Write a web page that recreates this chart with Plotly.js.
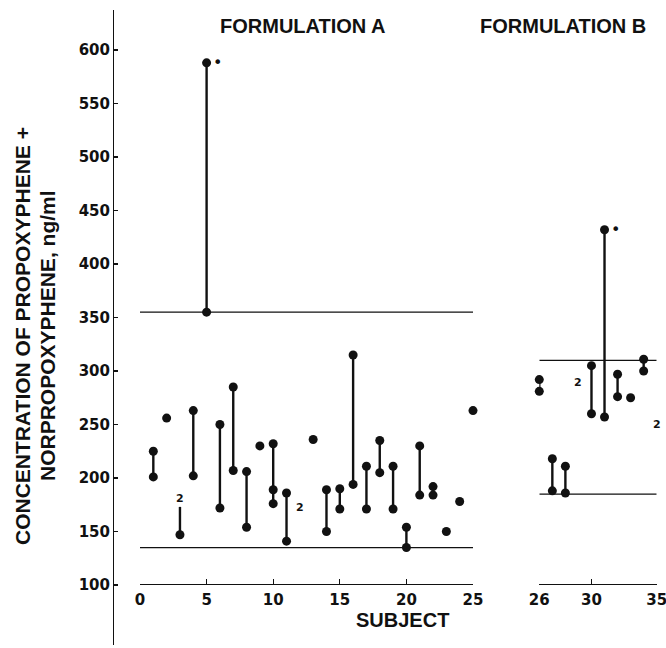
<!DOCTYPE html>
<html>
<head>
<meta charset="utf-8">
<script src="https://cdn.plot.ly/plotly-3.0.1.min.js"></script>
<style>
html,body{margin:0;padding:0;background:#fff;}
#chart{width:666px;height:648px;}
</style>
</head>
<body>
<div id="chart"></div>
<script>
// ---- DATA ----
const subjectsA = [1,2,3,4,5,6,7,8,9,10,11,12,13,14,15,16,17,18,19,20,21,22,23,24,25];
const concA1 = [225,256,147,263,588,250,285,206,230,232,186,null,236,189,190,315,211,235,211,154,230,192,150,178,263];
const concA2 = [201,null,null,202,355,172,207,154,null,189,141,null,null,150,171,194,171,205,171,135,184,184,null,null,null];
const concA3 = [null,null,null,null,null,null,null,null,null,176,null,null,null,null,null,null,null,null,null,null,null,null,null,null,null];
const stemOnlySubjects = [3];
const stemOnlyTops = [173];
const pairLabelSubjectsA = [3, 12];
const pairLabelValuesA = [181, 172];

const subjectsB = [26,27,28,29,30,31,32,33,34,35];
const concB1 = [292,218,211,null,305,432,297,275,311,null];
const concB2 = [281,188,186,null,260,257,276,null,300,null];
const pairLabelSubjectsB = [29, 35];
const pairLabelValuesB = [289, 250];

const footnoteSubjects = [5, 31];
const footnoteValues = [588, 432];

const refLinesA = [355, 135];
const refLinesB = [310, 185];

const xTicksA = [0,5,10,15,20,25];
const xTicksB = [26,30,35];
const yTicks = [100,150,200,250,300,350,400,450,500,550,600];

const titleA = 'FORMULATION A';
const titleB = 'FORMULATION B';
const yTitle1 = 'CONCENTRATION OF PROPOXYPHENE +';
const yTitle2 = 'NORPROPOXYPHENE, ng/ml';
const xTitle = 'SUBJECT';

// ---- BUILD ----
function buildSeries(subjects, cols, stemSubj, stemTop) {
  const dx = [], dy = [], sx = [], sy = [];
  subjects.forEach((s, i) => {
    const vals = cols.map(c => c[i]).filter(v => v !== null && v !== undefined);
    vals.forEach(v => { dx.push(s); dy.push(v); });
    const stemVals = vals.slice();
    const k = stemSubj.indexOf(s);
    if (k >= 0) stemVals.push(stemTop[k]);
    if (stemVals.length >= 2) {
      sx.push(s, s, null);
      sy.push(Math.min(...stemVals), Math.max(...stemVals), null);
    }
  });
  return {dx, dy, sx, sy};
}
const A = buildSeries(subjectsA, [concA1, concA2, concA3], stemOnlySubjects, stemOnlyTops);
const B = buildSeries(subjectsB, [concB1, concB2], [], []);

function refLine(ticks, refs) {
  const x = [], y = [];
  refs.forEach(r => { x.push(ticks[0], ticks[ticks.length-1], null); y.push(r, r, null); });
  return {x, y};
}
const RA = refLine(xTicksA, refLinesA);
const RB = refLine(xTicksB, refLinesB);

const ink = '#111';
const traces = [
  {x: RA.x, y: RA.y, xaxis:'x', yaxis:'y', mode:'lines', line:{color:ink, width:1.3}, hoverinfo:'skip', cliponaxis:false},
  {x: RB.x, y: RB.y, xaxis:'x2', yaxis:'y', mode:'lines', line:{color:ink, width:1.3}, hoverinfo:'skip', cliponaxis:false},
  {x: A.sx, y: A.sy, xaxis:'x', yaxis:'y', mode:'lines', line:{color:ink, width:2.4}, cliponaxis:false},
  {x: B.sx, y: B.sy, xaxis:'x2', yaxis:'y', mode:'lines', line:{color:ink, width:2.4}, cliponaxis:false},
  {x: A.dx, y: A.dy, xaxis:'x', yaxis:'y', mode:'markers', marker:{color:ink, size:9}, cliponaxis:false},
  {x: B.dx, y: B.dy, xaxis:'x2', yaxis:'y', mode:'markers', marker:{color:ink, size:9}, cliponaxis:false}
];

// ---- LAYOUT ----
const W = 666, H = 648;
const mL = 113, mR = 6, mT = 10, mB = 3;
const pw = W - mL - mR, ph = H - mT - mB;
const px2fx = p => (p - mL) / pw;
const py2fy = p => (H - mB - p) / ph;

const tickFont = {family:'DejaVu Sans', size:15, color:ink, weight:'bold'};
const titleFont = {family:'Liberation Sans', size:20, color:ink, weight:'bold'};
const numFont = {family:'DejaVu Sans', size:11, color:ink, weight:'bold'};

const annotations = [];
pairLabelSubjectsA.forEach((s, i) => annotations.push({x:s, y:pairLabelValuesA[i], xref:'x', yref:'y', text:'2', showarrow:false, font:numFont}));
pairLabelSubjectsB.forEach((s, i) => annotations.push({x:s, y:pairLabelValuesB[i], xref:'x2', yref:'y', text:'2', showarrow:false, font:numFont}));
footnoteSubjects.forEach((s, i) => annotations.push({x:s, y:footnoteValues[i], xref: s > 25 ? 'x2' : 'x', yref:'y', text:'•', showarrow:false, xshift:11, font:{family:'DejaVu Sans', size:16, color:ink}}));
annotations.push({x:px2fx(218), y:py2fy(26), xref:'paper', yref:'paper', xanchor:'left', yanchor:'middle', text:titleA, showarrow:false, font:titleFont});
annotations.push({x:px2fx(478), y:py2fy(26), xref:'paper', yref:'paper', xanchor:'left', yanchor:'middle', text:titleB, showarrow:false, font:titleFont});
annotations.push({x:px2fx(402), y:py2fy(620), xref:'paper', yref:'paper', xanchor:'center', yanchor:'middle', text:xTitle, showarrow:false, font:titleFont});
annotations.push({x:px2fx(22), y:py2fy(336), xref:'paper', yref:'paper', xanchor:'center', yanchor:'middle', text:yTitle1, textangle:-90, showarrow:false, font:{...titleFont, size:21}});
annotations.push({x:px2fx(47), y:py2fy(336), xref:'paper', yref:'paper', xanchor:'center', yanchor:'middle', text:yTitle2, textangle:-90, showarrow:false, font:{...titleFont, size:21}});

// y mapping: value 100 at pixel 585, 1.07 px per unit
const yLo = 100 - (H - mB - 585) / 1.07;
const yHi = 100 + (585 - mT) / 1.07;
const xAxisPos = py2fy(584);

const layout = {
  width: W, height: H,
  margin: {l:mL, r:mR, t:mT, b:mB, pad:0},
  paper_bgcolor:'#fff', plot_bgcolor:'#fff',
  showlegend:false,
  xaxis: {
    domain:[px2fx(140), px2fx(473)], range:[0,25], anchor:'free', position:xAxisPos,
    showgrid:false, zeroline:false, showline:true, linecolor:ink, linewidth:1.3,
    tickmode:'array', tickvals:xTicksA, ticks:'inside', ticklen:5, tickcolor:ink, tickwidth:1.2,
    tickfont:tickFont, ticklabelstandoff:2, ticklabeloverflow:'allow'
  },
  xaxis2: {
    domain:[px2fx(539.3), px2fx(656.7)], range:[26,35], anchor:'free', position:xAxisPos,
    showgrid:false, zeroline:false, showline:true, linecolor:ink, linewidth:1.3,
    tickmode:'array', tickvals:xTicksB, ticks:'inside', ticklen:5, tickcolor:ink, tickwidth:1.2,
    tickfont:tickFont, ticklabelstandoff:2, ticklabeloverflow:'allow'
  },
  yaxis: {
    domain:[0,1], range:[yLo, yHi], anchor:'free', position:0,
    showgrid:false, zeroline:false, showline:true, linecolor:ink, linewidth:1.3,
    tickmode:'array', tickvals:yTicks, ticks:'inside', ticklen:4, tickcolor:ink, tickwidth:1.2,
    tickfont:tickFont
  },
  annotations: annotations
};

Plotly.newPlot('chart', traces, layout, {displayModeBar:false, staticPlot:true});
</script>
</body>
</html>
